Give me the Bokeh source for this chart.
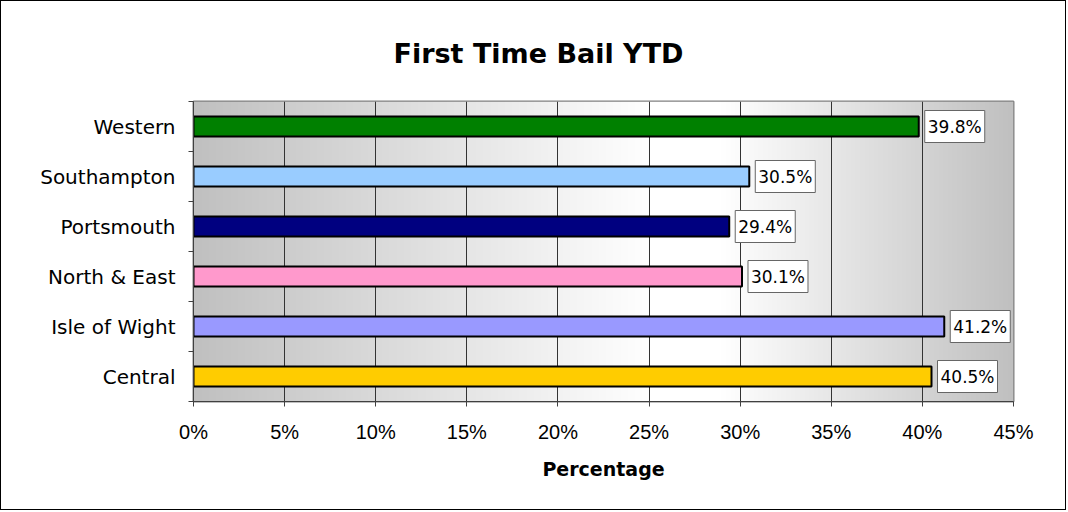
import numpy as np
from bokeh.plotting import figure
from bokeh.models import (Range1d, FixedTicker, SingleIntervalTicker,
                          PrintfTickFormatter, Title, ColumnDataSource)
from bokeh.embed import file_html
from bokeh.resources import INLINE

# ---------------- data ----------------
chart_title = "First Time Bail YTD"
x_axis_title = "Percentage"
categories = ["Central", "Isle of Wight", "North & East", "Portsmouth", "Southampton", "Western"]
values = [40.5, 41.2, 30.1, 29.4, 30.5, 39.8]
bar_colors = ["#FFCC00", "#9999FF", "#FF99CC", "#000080", "#99CCFF", "#008000"]
x_min, x_max, x_step = 0, 45, 5

# background gradient stops (percent position, gray level)
grad_pos = [0, 25, 29, 45]
grad_val = [192, 255, 255, 192]

# ---------------- build ----------------
n = len(categories)
ys = [i + 0.5 for i in range(n)]
labels = [f"{v:.1f}%" for v in values]
source = ColumnDataSource(dict(y=ys, value=values, color=bar_colors, label=labels))

p = figure(width=1066, height=510,
           x_range=Range1d(x_min, x_max), y_range=Range1d(0, n),
           output_backend="svg", toolbar_location=None,
           min_border_left=192, min_border_right=54,
           min_border_top=100, min_border_bottom=110)
p.styles = {"border": "1px solid #000000"}
p.background_fill_color = "#C0C0C0"
p.border_fill_color = "white"
p.outline_line_color = "#808080"
p.outline_line_width = 2

p.title = Title(text=chart_title, align="left", offset=200,
                vertical_align="top", standoff=62,
                text_font="DejaVu Sans", text_font_style="bold",
                text_font_size="27px", text_color="black")

# gradient background of plot area
cols = 820
xs = np.linspace(x_min, x_max, cols)
g = np.interp(xs, grad_pos, grad_val).astype(np.uint8)
img = np.empty((1, cols), dtype=np.uint32)
view = img.view(dtype=np.uint8).reshape((1, cols, 4))
view[..., 0] = g
view[..., 1] = g
view[..., 2] = g
view[..., 3] = 255
p.image_rgba(image=[img], x=x_min, y=0, dw=x_max - x_min, dh=n, level="image")

# grid
p.xgrid.ticker = SingleIntervalTicker(interval=x_step, num_minor_ticks=0)
p.xgrid.grid_line_color = "#333333"
p.xgrid.grid_line_width = 1
p.ygrid.visible = False

# bars
p.hbar(y="y", left=0, right="value", height=0.4, source=source,
       fill_color="color", line_color="black", line_width=2)

# value labels
p.text(x="value", y="y", text="label", source=source,
       x_offset=6, text_align="left", text_baseline="middle",
       text_font={"value": "DejaVu Sans"}, text_font_size="17px", text_color="black",
       background_fill_color="white", border_line_color="#666666", border_line_width=1,
       padding=dict(left=3, right=3, top=6, bottom=6))

# x axis
xa = p.xaxis[0]
xa.ticker = SingleIntervalTicker(interval=x_step, num_minor_ticks=0)
xa.formatter = PrintfTickFormatter(format="%d%%")
xa.major_label_text_font = "Liberation Sans"
xa.major_label_text_font_size = "20px"
xa.major_label_text_color = "black"
xa.major_tick_out = 5
xa.major_tick_in = 0
xa.minor_tick_out = 0
xa.minor_tick_in = 0
xa.major_tick_line_color = "#404040"
xa.axis_line_color = "#404040"
xa.major_label_standoff = 14
xa.axis_label = x_axis_title
xa.axis_label_text_font = "DejaVu Sans"
xa.axis_label_text_font_style = "bold"
xa.axis_label_text_font_size = "19px"
xa.axis_label_text_color = "black"
xa.axis_label_standoff = 12

# y axis
ya = p.yaxis[0]
ya.ticker = FixedTicker(ticks=ys, minor_ticks=list(range(n + 1)))
ya.major_label_overrides = {float(y): c for y, c in zip(ys, categories)}
ya.major_label_text_font = "DejaVu Sans"
ya.major_label_text_font_size = "20px"
ya.major_label_text_color = "black"
ya.major_tick_out = 0
ya.major_tick_in = 0
ya.minor_tick_out = 5
ya.minor_tick_in = 0
ya.minor_tick_line_color = "#404040"
ya.axis_line_color = "#404040"
ya.major_label_standoff = 13

open("out.html", "w").write(file_html(p, INLINE))
